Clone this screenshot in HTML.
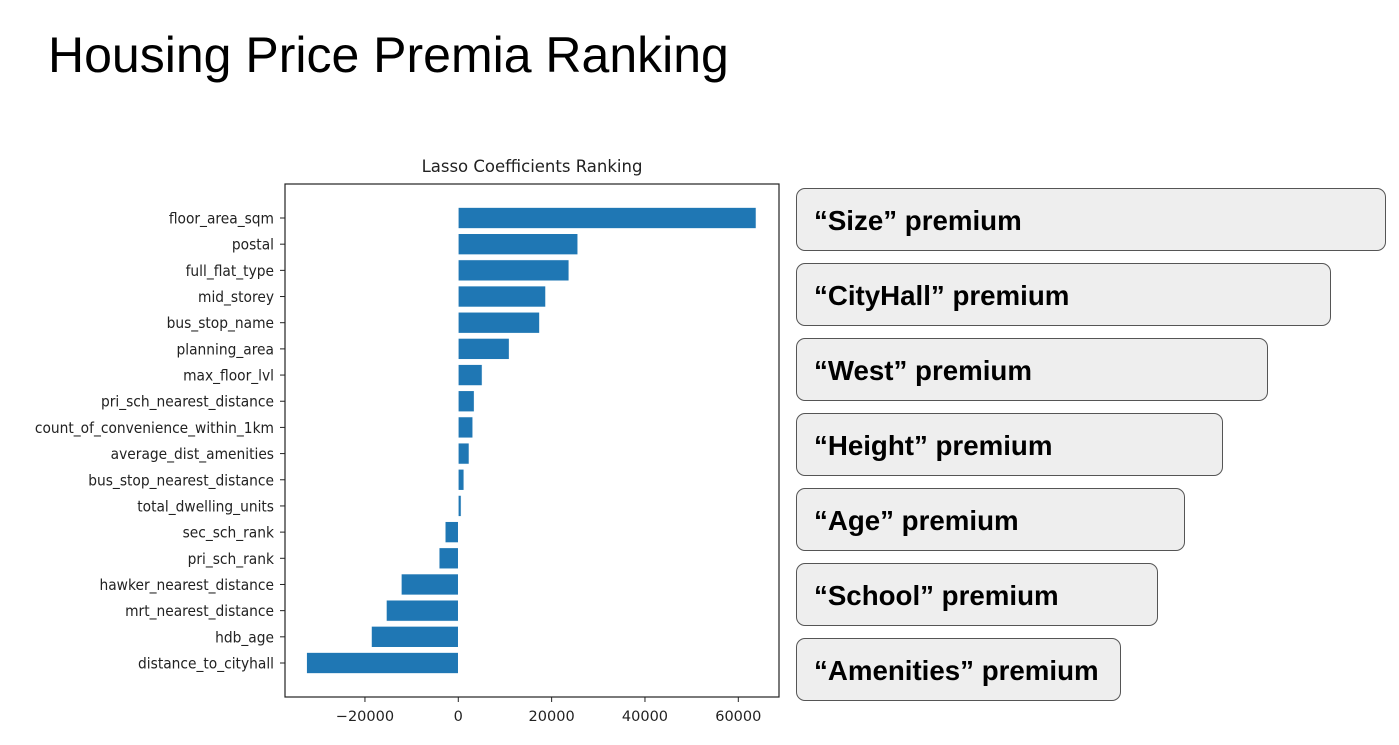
<!DOCTYPE html>
<html><head><meta charset="utf-8"><style>
body{margin:0;width:1399px;height:745px;background:#fff;overflow:hidden;position:relative;font-family:"Liberation Sans",sans-serif}
.title{position:absolute;left:48px;top:26px;font-size:50px;color:#000}
.box{position:absolute;left:796px;height:63px;background:#eeeeee;border:1.3px solid #555;border-radius:9px;box-sizing:border-box;font-weight:bold;font-size:27.7px;padding-left:17px;line-height:64px;color:#000}
svg text{font-family:"DejaVu Sans",sans-serif;fill:#222}
</style></head><body>
<div class="title">Housing Price Premia Ranking</div>
<svg id="chart" width="1399" height="745" style="position:absolute;left:0;top:0"></svg>
<div class="box" style="top:188px;width:590px">“Size” premium</div>
<div class="box" style="top:263px;width:535px">“CityHall” premium</div>
<div class="box" style="top:338px;width:472px">“West” premium</div>
<div class="box" style="top:413px;width:427px">“Height” premium</div>
<div class="box" style="top:488px;width:389px">“Age” premium</div>
<div class="box" style="top:563px;width:362px">“School” premium</div>
<div class="box" style="top:638px;width:325px">“Amenities” premium</div>
<script>
const categories=["floor_area_sqm","postal","full_flat_type","mid_storey","bus_stop_name","planning_area","max_floor_lvl","pri_sch_nearest_distance","count_of_convenience_within_1km","average_dist_amenities","bus_stop_nearest_distance","total_dwelling_units","sec_sch_rank","pri_sch_rank","hawker_nearest_distance","mrt_nearest_distance","hdb_age","distance_to_cityhall"];
const values=[63800,25600,23700,18700,17400,10900,5100,3400,3100,2300,1200,600,-2800,-4100,-12200,-15400,-18600,-32500];
const xTicks=[-20000,0,20000,40000,60000];
const xTickLabels=["\u221220000","0","20000","40000","60000"];
const L=285,R=779,T=184,B=697;
const xMin=-37130,xMax=68720;
function xs(v){return L+(v-xMin)/(xMax-xMin)*(R-L);}
const pitch=(663-218)/(categories.length-1);
function ys(i){return 218+i*pitch;}
const NS="http://www.w3.org/2000/svg";
const svg=document.getElementById('chart');
function mk(t,a){const e=document.createElementNS(NS,t);for(const k in a)e.setAttribute(k,a[k]);svg.appendChild(e);return e;}
const tt=mk('text',{x:(L+R)/2,y:172,'text-anchor':'middle','font-size':'16.5'});tt.textContent="Lasso Coefficients Ranking";


const bh=pitch*0.8;
categories.forEach((c,i)=>{
  const v=values[i];const x0=xs(Math.min(0,v)),x1=xs(Math.max(0,v));
  const r=mk('rect',{x:x0,y:ys(i)-bh/2,width:x1-x0,height:bh,fill:'#1f77b4',stroke:'#fff','stroke-width':'0.6'});
  
  
  mk('line',{x1:L-5,x2:L,y1:ys(i),y2:ys(i),stroke:'#222','stroke-width':1});
  const t=mk('text',{x:L-11,y:ys(i)+5.5,'text-anchor':'end','font-size':'15',transform:'translate('+(L-11)+',0) scale(0.92,1) translate('+(-(L-11))+',0)'});
  t.textContent=c;
  
  
});
xTicks.forEach((v,i)=>{
  mk('line',{x1:xs(v),x2:xs(v),y1:B,y2:B+5,stroke:'#222','stroke-width':1});
  const t=mk('text',{x:xs(v),y:B+24,'text-anchor':'middle','font-size':'14.5'});t.textContent=xTickLabels[i];
  
  
});
const fr=mk('rect',{x:L,y:T,width:R-L,height:B-T,fill:'none',stroke:'#222','stroke-width':1.2});


</script>
</body></html>
